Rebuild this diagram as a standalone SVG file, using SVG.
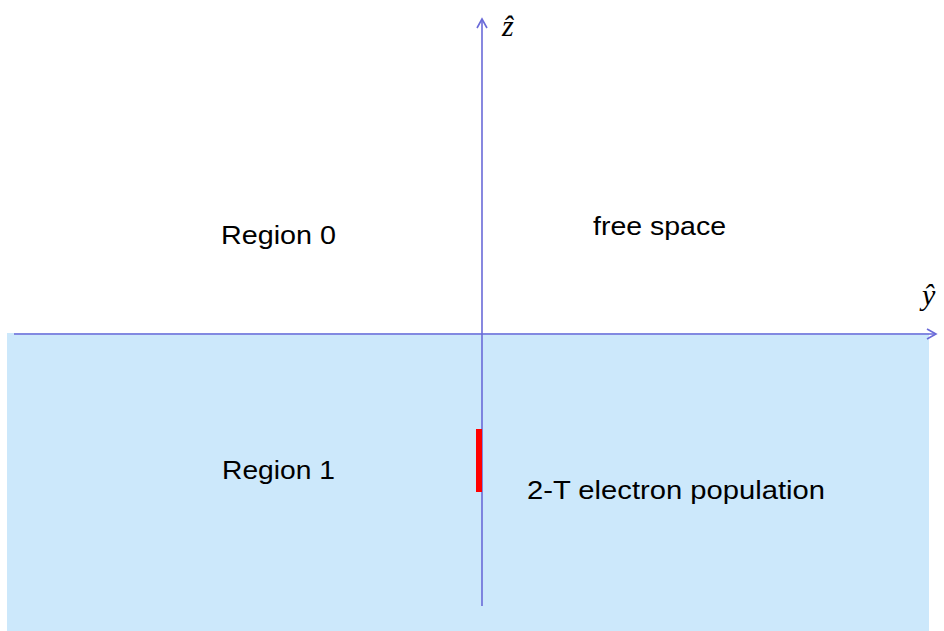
<svg xmlns="http://www.w3.org/2000/svg" width="944" height="631" viewBox="0 0 944 631">
<style>
.lbl{font-family:"Liberation Sans",Arial,sans-serif;font-size:25px;fill:#000}
.ax{font-family:"Liberation Serif","Times New Roman",serif;font-style:italic;font-size:30px;fill:#000}
.axis{stroke:#6a6ad8;stroke-width:1.6;fill:none}
</style>
<defs>
<marker id="arr" markerWidth="12" markerHeight="12" refX="10" refY="6" orient="auto" markerUnits="userSpaceOnUse">
<path d="M1,1 L10,6 L1,11" fill="none" stroke="#6a6ad8" stroke-width="1.6"/>
</marker>
</defs>
<rect id="region1" x="7" y="333" width="922" height="298" fill="#cce8fb"/>
<g id="connectors">
<line class="axis" x1="14" y1="334" x2="936" y2="334" marker-end="url(#arr)"/>
<line class="axis" x1="482" y1="606" x2="482" y2="19" marker-end="url(#arr)"/>
</g>
<g id="source"><rect x="476" y="429" width="6" height="63" fill="#ff0000"/></g>
<g id="labels">
<text class="lbl" x="221" y="244" textLength="115" lengthAdjust="spacingAndGlyphs">Region 0</text>
<text class="lbl" x="593" y="235" textLength="133" lengthAdjust="spacingAndGlyphs">free space</text>
<text class="lbl" x="222" y="479" textLength="113" lengthAdjust="spacingAndGlyphs">Region 1</text>
<text class="lbl" x="527" y="499" textLength="298" lengthAdjust="spacingAndGlyphs">2-T electron population</text>
<text class="ax" x="502" y="36">ẑ</text>
<text class="ax" x="922" y="305">ŷ</text>
</g>
</svg>
